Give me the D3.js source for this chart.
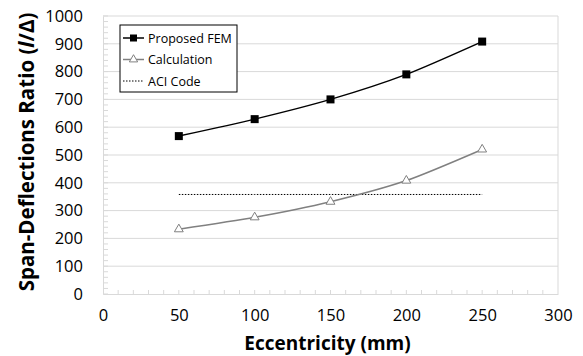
<!DOCTYPE html>
<html>
<head>
<meta charset="utf-8">
<script src="https://cdn.jsdelivr.net/npm/d3@7"></script>
<style>
  body { margin: 0; background: #fff; }
  text { font-family: "Open Sans", "DejaVu Sans", sans-serif; }
</style>
</head>
<body>
<div id="chart"></div>
<script>
// chart values
var eccentricity = [50, 100, 150, 200, 250];
var femValues = [568, 629, 700, 790, 908];
var calcValues = [233, 276, 332, 408, 520];
var aciValues = [358, 358, 358, 358, 358];
var xTicks = [0, 50, 100, 150, 200, 250, 300];
var yTicks = [0, 100, 200, 300, 400, 500, 600, 700, 800, 900, 1000];

var svgWidth = 583, svgHeight = 356;
var margin = {top: 16, right: 25, bottom: 62, left: 103};
var width = svgWidth - margin.left - margin.right;
var height = svgHeight - margin.top - margin.bottom;

var svg = d3.select("#chart").append("svg")
    .attr("width", svgWidth)
    .attr("height", svgHeight);

var chart = svg.append("g")
    .attr("transform", `translate(${margin.left}, ${margin.top})`);

var x = d3.scaleLinear().domain([0, 300]).range([0, width]);
var y = d3.scaleLinear().domain([0, 1000]).range([height, 0]);

// gridlines
chart.append("g").selectAll("line")
    .data(yTicks.filter(d => d > 0))
    .enter().append("line")
    .attr("x1", 0).attr("x2", width)
    .attr("y1", d => y(d)).attr("y2", d => y(d))
    .attr("stroke", "#d9d9d9").attr("stroke-width", 1);

// plot border (right side)
chart.append("line")
    .attr("x1", width).attr("x2", width).attr("y1", 0).attr("y2", height)
    .attr("stroke", "#d9d9d9");

// minor ticks
chart.append("g").selectAll("line")
    .data(d3.range(0, 1001, 20))
    .enter().append("line")
    .attr("x1", 0).attr("x2", 5)
    .attr("y1", d => y(d)).attr("y2", d => y(d))
    .attr("stroke", "#d9d9d9");
chart.append("g").selectAll("line")
    .data(d3.range(10, 300, 10))
    .enter().append("line")
    .attr("x1", d => x(d)).attr("x2", d => x(d))
    .attr("y1", height).attr("y2", height - 4)
    .attr("stroke", "#d9d9d9");

// axes
var xAxis = chart.append("g")
    .attr("transform", `translate(0, ${height})`)
    .call(d3.axisBottom(x).tickValues(xTicks).tickFormat(d3.format("d")).tickSize(0).tickPadding(15));
var yAxis = chart.append("g")
    .call(d3.axisLeft(y).tickValues(yTicks).tickFormat(d3.format("d")).tickSize(0).tickPadding(20));
[xAxis, yAxis].forEach(a => {
    a.select(".domain").attr("stroke", "#d9d9d9");
    a.selectAll("text").attr("font-size", 16.5).attr("fill", "#000")
        .style("font-family", '"Open Sans", sans-serif');
});

// series
var lineGen = d3.line()
    .x(d => x(d[0]))
    .y(d => y(d[1]))
    .curve(d3.curveCardinal.tension(0.3));

var femData = eccentricity.map((e, i) => [e, femValues[i]]);
var calcData = eccentricity.map((e, i) => [e, calcValues[i]]);
var aciData = eccentricity.map((e, i) => [e, aciValues[i]]);

chart.append("path").datum(aciData)
    .attr("d", d3.line().x(d => x(d[0])).y(d => y(d[1])))
    .attr("fill", "none").attr("stroke", "#000")
    .attr("stroke-width", 1).attr("stroke-dasharray", "1.5,1.5");

chart.append("path").datum(calcData)
    .attr("d", lineGen)
    .attr("fill", "none").attr("stroke", "#808080").attr("stroke-width", 1.5);

chart.append("path").datum(femData)
    .attr("d", lineGen)
    .attr("fill", "none").attr("stroke", "#000").attr("stroke-width", 1.5);

var tri = d3.symbol().type(d3.symbolTriangle).size(34);
chart.selectAll(".calcPt").data(calcData).enter().append("path")
    .attr("class", "calcPt")
    .attr("d", tri)
    .attr("transform", d => `translate(${x(d[0])}, ${y(d[1])})`)
    .attr("fill", "#fff").attr("stroke", "#808080").attr("stroke-width", 1);

chart.selectAll(".femPt").data(femData).enter().append("rect")
    .attr("class", "femPt")
    .attr("x", d => x(d[0]) - 4).attr("y", d => y(d[1]) - 4)
    .attr("width", 8).attr("height", 8)
    .attr("fill", "#000");

// axis titles
svg.append("text")
    .attr("x", margin.left + width / 2 - 3).attr("y", 350)
    .attr("text-anchor", "middle")
    .attr("font-size", 19).attr("font-weight", "bold")
    .text("Eccentricity (mm)");

var yTitle = svg.append("text")
    .attr("transform", "translate(34, 152) rotate(-90)")
    .attr("text-anchor", "middle")
    .attr("font-size", 20.5).attr("font-weight", "bold");
yTitle.append("tspan").text("Span-Deflections Ratio (");
yTitle.append("tspan").attr("font-style", "italic").text("l");
yTitle.append("tspan").text("/Δ)");

// legend
var legend = svg.append("g").attr("transform", "translate(120, 25)");
legend.append("rect")
    .attr("width", 117).attr("height", 67)
    .attr("fill", "#fff").attr("stroke", "#000").attr("stroke-width", 1);

var legendItems = ["Proposed FEM", "Calculation", "ACI Code"];
legendItems.forEach(function(name, i) {
    var ly = 13 + i * 21.5;
    var g = legend.append("g").attr("transform", `translate(0, ${ly})`);
    var ln = g.append("line").attr("x1", 3).attr("x2", 24).attr("y1", 0).attr("y2", 0);
    if (i === 0) {
        ln.attr("stroke", "#000").attr("stroke-width", 1.5);
        g.append("rect").attr("x", 10).attr("y", -3.5).attr("width", 7).attr("height", 7).attr("fill", "#000");
    } else if (i === 1) {
        ln.attr("stroke", "#808080").attr("stroke-width", 1.5);
        g.append("path").attr("d", d3.symbol().type(d3.symbolTriangle).size(30))
            .attr("transform", "translate(13.5, 0)")
            .attr("fill", "#fff").attr("stroke", "#808080");
    } else {
        ln.attr("stroke", "#000").attr("stroke-width", 1).attr("stroke-dasharray", "1.5,1.5");
    }
    g.append("text").attr("x", 28).attr("y", 4.5)
        .attr("font-size", 12.5).text(name);
});
</script>
</body>
</html>
